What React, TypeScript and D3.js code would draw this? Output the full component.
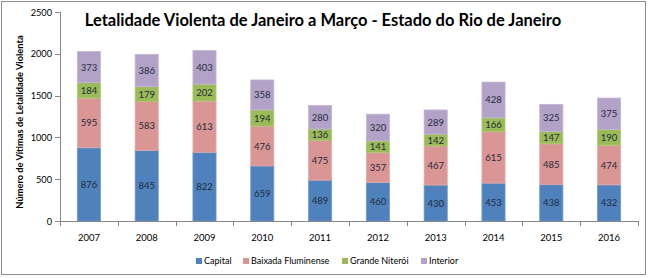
import React from 'react';
import * as d3 from 'd3';

const years = ['2007', '2008', '2009', '2010', '2011', '2012', '2013', '2014', '2015', '2016'];
const capital = [876, 845, 822, 659, 489, 460, 430, 453, 438, 432];
const baixada = [595, 583, 613, 476, 475, 357, 467, 615, 485, 474];
const niteroi = [184, 179, 202, 194, 136, 141, 142, 166, 147, 190];
const interior = [373, 386, 403, 358, 280, 320, 289, 428, 325, 375];
const seriesNames = ['Capital', 'Baixada Fluminense', 'Grande Niterói', 'Interior'];
const yTicks = [0, 500, 1000, 1500, 2000, 2500];

const colors = ['#4F81BD', '#D99694', '#9BBB59', '#B3A2C7'];
const edges = ['#6C97CC', '#E3ABA9', '#AFCA78', '#C4B6D5'];
const font = 'Lato, "Open Sans", sans-serif';

const App = () => {
  const width = 650;
  const height = 278;
  const m = { left: 60, right: 638, top: 12, bottom: 221 };

  const x = d3.scaleBand<string>().domain(years).range([m.left, m.right]).paddingInner(0.6).paddingOuter(0.3);
  const y = d3.scaleLinear().domain([0, 2500]).range([m.bottom, m.top]);

  const rows = years.map((yr, i) => ({
    year: yr,
    Capital: capital[i],
    'Baixada Fluminense': baixada[i],
    'Grande Niterói': niteroi[i],
    Interior: interior[i],
  }));
  const stacked = d3.stack<any>().keys(seriesNames)(rows);
  const step = x.step();

  // legend layout (marker x)
  const legendX = [196, 243, 342, 421];

  return (
    <svg width={width} height={height} style={{ position: 'absolute', left: 0, top: 0 }}>
      <rect x={0} y={0} width={width} height={height} fill="#fff" />
      <rect x={1.5} y={1.5} width={644} height={273} fill="#fff" stroke="#8c8c8c" strokeWidth={1} />

      <text x={323} y={26} textAnchor="middle" fontFamily={font} fontWeight="bold" fontSize={16.5} fill="#000">
        Letalidade Violenta de Janeiro a Março - Estado do Rio de Janeiro
      </text>

      <text
        transform={`translate(23, 122) rotate(-90)`}
        textAnchor="middle"
        fontFamily={font}
        fontWeight="bold"
        fontSize={9.3}
        fill="#000"
      >
        Número de Vítimas de Letalidade Violenta
      </text>

      {/* y axis */}
      <line x1={m.left + 0.5} x2={m.left + 0.5} y1={m.top} y2={m.bottom} stroke="#868686" />
      {yTicks.map((t) => (
        <g key={t}>
          <line x1={m.left - 5} x2={m.left} y1={Math.round(y(t)) + 0.5} y2={Math.round(y(t)) + 0.5} stroke="#868686" />
          <text x={m.left - 8} y={y(t) + 3.5} textAnchor="end" fontFamily={font} fontSize={9.2} fill="#000">
            {t}
          </text>
        </g>
      ))}

      {/* bars */}
      {stacked.map((s, si) => (
        <g key={s.key}>
          {s.map((d, i) => {
            const x0 = x(years[i])!;
            const y0 = y(d[1]);
            const h = y(d[0]) - y(d[1]);
            return (
              <g key={i}>
                <rect x={x0} y={y0} width={x.bandwidth()} height={h} fill={colors[si]} stroke={edges[si]} strokeWidth={0.8} />
                <text
                  x={x0 + x.bandwidth() / 2}
                  y={y0 + h / 2 + 3.5}
                  textAnchor="middle"
                  fontFamily={font}
                  fontSize={9.5}
                  fill="#1F2A3A"
                >
                  {d[1] - d[0]}
                </text>
              </g>
            );
          })}
        </g>
      ))}

      {/* x axis */}
      <line x1={m.left} x2={m.right} y1={m.bottom + 0.5} y2={m.bottom + 0.5} stroke="#868686" />
      {d3.range(years.length + 1).map((i) => (
        <line
          key={i}
          x1={Math.round(m.left + i * step) + 0.5}
          x2={Math.round(m.left + i * step) + 0.5}
          y1={m.bottom}
          y2={m.bottom + 5}
          stroke="#868686"
        />
      ))}
      {years.map((yr) => (
        <text key={yr} x={x(yr)! + x.bandwidth() / 2} y={m.bottom + 20} textAnchor="middle" fontFamily={font} fontSize={9.5} fill="#000">
          {yr}
        </text>
      ))}

      {/* legend */}
      {seriesNames.map((n, i) => (
        <g key={n}>
          <rect x={legendX[i]} y={258} width={6} height={6} fill={colors[i]} />
          <text x={legendX[i] + 8} y={264} fontFamily={font} fontSize={9} fill="#000">
            {n}
          </text>
        </g>
      ))}
    </svg>
  );
};

export default App;
